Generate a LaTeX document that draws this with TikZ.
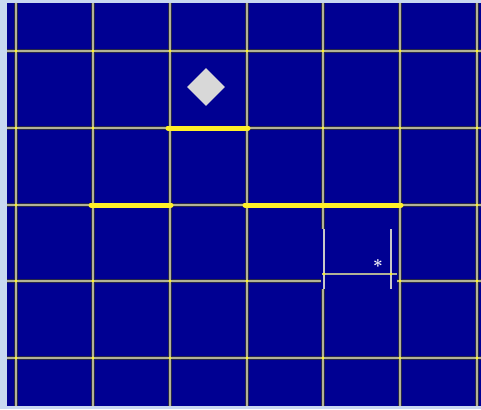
\documentclass[tikz,border=0pt]{standalone}
\usetikzlibrary{shapes.geometric}
\definecolor{frame}{RGB}{200,216,240}
\definecolor{board}{RGB}{0,0,146}
\definecolor{gridc}{RGB}{178,178,150}
\definecolor{gridedge}{RGB}{40,40,70}
\definecolor{bar}{RGB}{255,240,40}
\definecolor{dia}{RGB}{216,216,216}
\definecolor{bracketc}{RGB}{200,200,200}
\tikzset{
  gridedge/.style={draw=gridedge,line width=3.4pt},
  gridline/.style={draw=gridc,line width=1.8pt},
  barline/.style={draw=bar,line width=5pt,line cap=round},
  brk/.style={draw=bracketc,line width=2pt},
  crossdot/.style={fill=yellow!85!white,draw=none}
}
\begin{document}
\begin{tikzpicture}[x=1pt,y=-1pt]
\fill[frame] (0,0) rectangle (481,409);
\useasboundingbox (0,0) rectangle (481,409);
\fill[board] (7,3) rectangle (481,406);
% grid: outlines then cores
\foreach \x in {16,93,170,247,400,477} {\draw[gridedge] (\x,3) -- (\x,406);}
\draw[gridedge] (323,3) -- (323,229);
\draw[gridedge] (323,289) -- (323,406);
\foreach \y in {51,128,205,358} {\draw[gridedge] (7,\y) -- (481,\y);}
\draw[gridedge] (7,281) -- (321,281);
\draw[gridedge] (397,281) -- (481,281);
\foreach \x in {16,93,170,247,400,477} {\draw[gridline] (\x,3) -- (\x,406);}
\draw[gridline] (323,3) -- (323,229);
\draw[gridline] (323,289) -- (323,406);
\foreach \y in {51,128,205,358} {\draw[gridline] (7,\y) -- (481,\y);}
\draw[gridline] (7,281) -- (321,281);
\draw[gridline] (397,281) -- (481,281);
\foreach \x in {16,93,170,247,323,400,477}
  \foreach \y in {51,128,205,358}
    {\fill[crossdot] (\x,\y) circle (1.6pt);}
\foreach \x in {16,93,170,247,400,477}
    {\fill[crossdot] (\x,281) circle (1.6pt);}
% yellow bars
\draw[barline] (168,128) -- (248,128);
\draw[barline] (91,205) -- (171,205);
\draw[barline] (245,205) -- (401,205);
% diamond
\node[diamond,fill=dia,draw=none,minimum width=38pt,minimum height=38pt,inner sep=0pt] (piece) at (206,87) {};
% bracket
\coordinate (bl) at (322,274);
\coordinate (br) at (397,274);
\coordinate (lt) at (324,229);
\coordinate (lb) at (324,289);
\coordinate (rt) at (391,229);
\coordinate (rb) at (391,289);
\draw[brk] (lt) -- (lb);
\draw[brk] (rt) -- (rb);
\draw[draw=gridc,line width=1.4pt] (bl) -- (br);
\fill[crossdot] (324,274) circle (1.3pt);
\fill[crossdot] (391,274) circle (1.3pt);
\node[text=white,font=\bfseries\LARGE,inner sep=0pt] (star) at (378,266) {*};
\end{tikzpicture}
\end{document}
